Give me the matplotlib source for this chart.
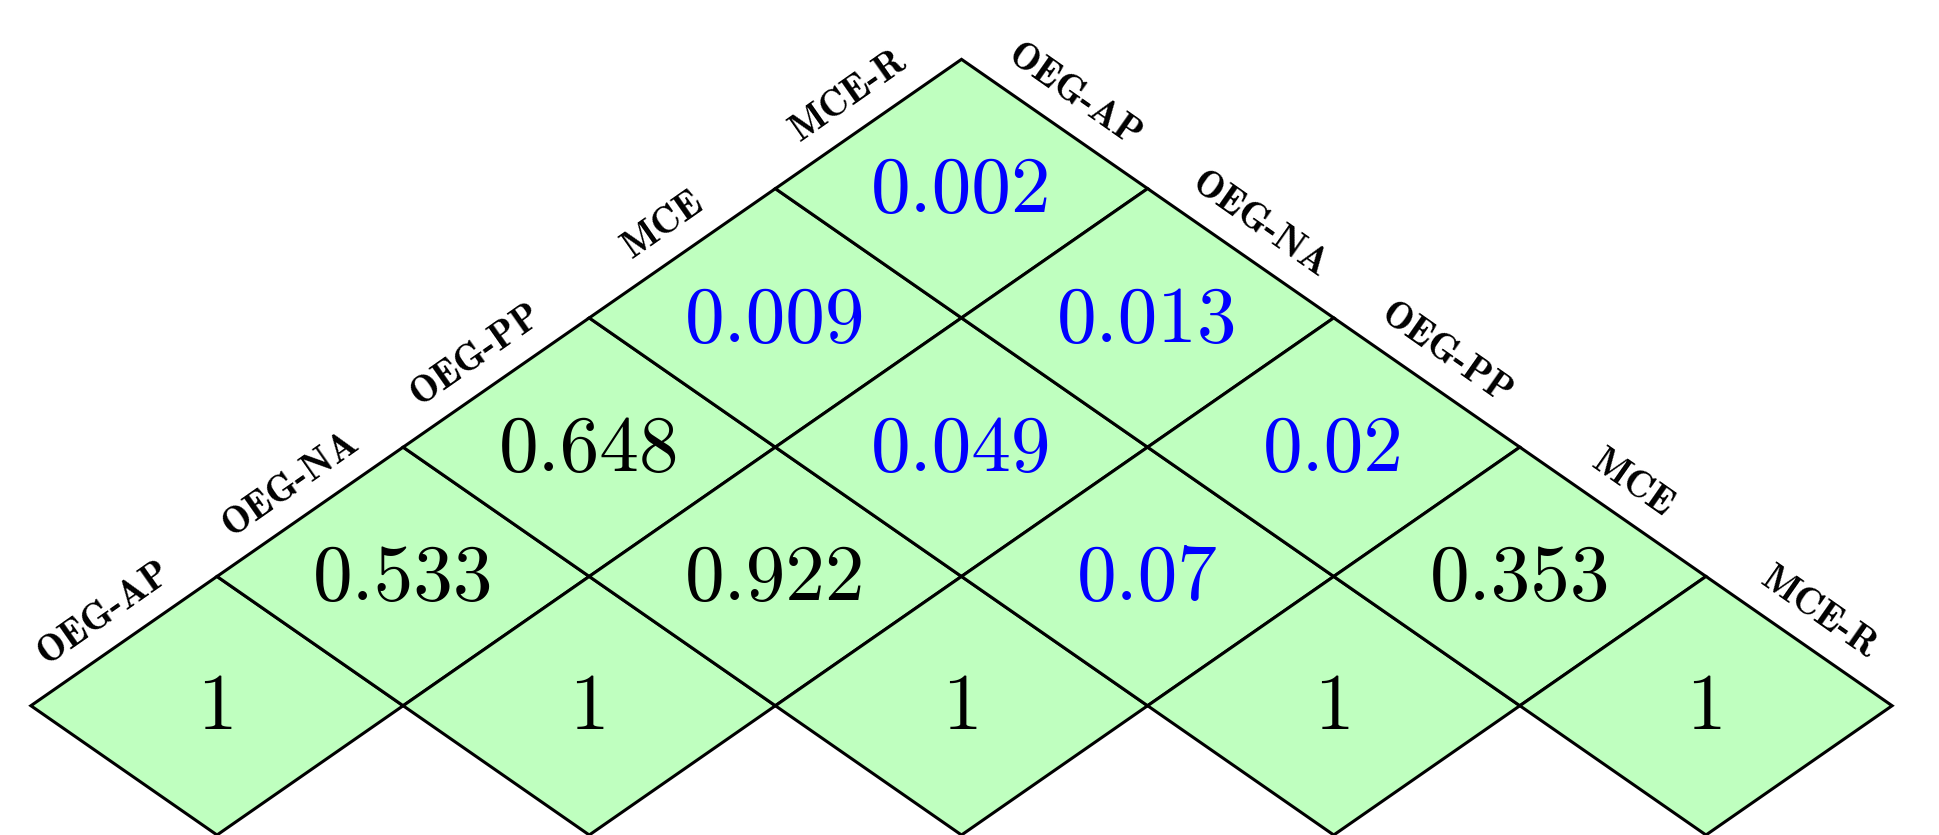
import matplotlib.pyplot as plt
from matplotlib.patches import Polygon

# groups and pairwise p-values (symmetric, diagonal = 1)
categories = ["OEG-AP", "OEG-NA", "OEG-PP", "MCE", "MCE-R"]
row_ap = [1, 0.533, 0.648, 0.009, 0.002]
row_na = [0.533, 1, 0.922, 0.049, 0.013]
row_pp = [0.648, 0.922, 1, 0.07, 0.02]
row_mce = [0.009, 0.049, 0.07, 1, 0.353]
row_mcer = [0.002, 0.013, 0.02, 0.353, 1]
pvals = [row_ap, row_na, row_pp, row_mce, row_mcer]

fill_col = "#bfffbf"
sig_col = "#0000ff"
alpha_lvl = 0.1

fig = plt.figure(figsize=(19.39, 8.35), dpi=100)
ax = fig.add_axes([0, 0, 1, 1])
ax.set_xlim(-0.583, 4.626)
ax.set_ylim(-1, 5.459)
ax.axis("off")

n = len(categories)
for i in range(n):
    for j in range(i, n):
        cx = (i + j) / 2
        cy = j - i
        verts = [(cx - 0.5, cy), (cx, cy + 1), (cx + 0.5, cy), (cx, cy - 1)]
        ax.add_patch(Polygon(verts, closed=True, facecolor=fill_col,
                             edgecolor="black", lw=2.2, zorder=1))
        v = pvals[i][j]
        col = sig_col if v < alpha_lvl else "black"
        ax.text(cx, cy - 0.03, f"{v:g}", ha="center", va="center", color=col,
                fontsize=57, family="cmr10", zorder=3)

# labels along the two upper edges
for k, name in enumerate(categories):
    # left edge, cell (0, k)
    ex = k / 2 - 0.25
    ey = k + 0.5
    ax.annotate(name, (ex, ey), xytext=(-14, 20), textcoords="offset points",
                ha="center", va="center", rotation=35, rotation_mode="anchor",
                fontsize=28, family="cmb10")
    # right edge, cell (k, n-1)
    ex = (k + n - 1) / 2 + 0.25
    ey = (n - 1 - k) + 0.5
    ax.annotate(name, (ex, ey), xytext=(14, 20), textcoords="offset points",
                ha="center", va="center", rotation=-35, rotation_mode="anchor",
                fontsize=28, family="cmb10")

plt.savefig("out.png", dpi=100)
